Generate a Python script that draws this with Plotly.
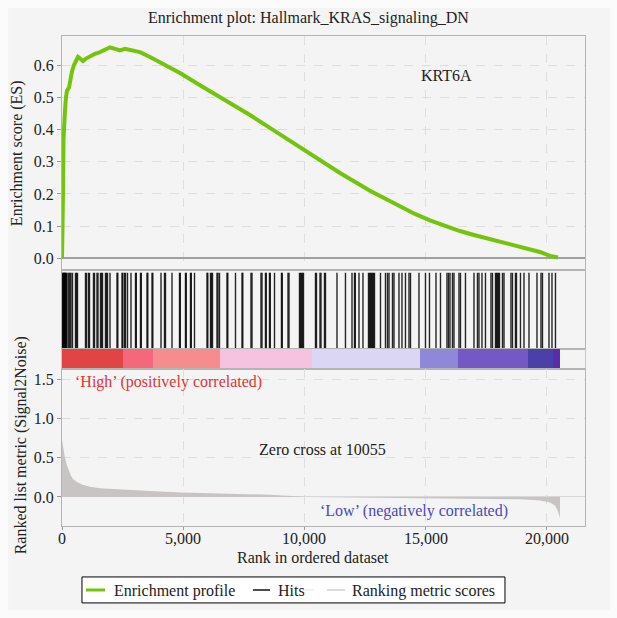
import plotly.graph_objects as go

# ---------------- data ----------------
es_rank = [0, 21, 41, 62, 82, 124, 165, 206, 289, 330, 412, 495, 578, 660, 743, 866, 990,
           1155, 1361, 1568, 1774, 1980, 2186, 2393, 2599, 2805, 3218, 3630, 4249, 4868,
           5693, 6518, 7755, 8993, 10230, 11468, 12705, 13943, 14560, 15180, 15800, 16418,
           17036, 17655, 18270, 18890, 19305, 19718, 20130, 20460]
es_value = [0.0, 0.06, 0.2, 0.37, 0.42, 0.46, 0.50, 0.52, 0.53, 0.55, 0.58, 0.60, 0.61, 0.625,
            0.62, 0.612, 0.62, 0.628, 0.635, 0.64, 0.648, 0.655, 0.65, 0.645, 0.65, 0.647,
            0.64, 0.625, 0.60, 0.575, 0.537, 0.50, 0.445, 0.385, 0.325, 0.265, 0.21, 0.16,
            0.138, 0.118, 0.10, 0.085, 0.072, 0.06, 0.048, 0.037, 0.03, 0.02, 0.008, 0.003]

hit_rank = [21, 41, 62, 82, 103, 124, 144, 165, 186, 248, 289, 330, 371, 433, 557, 598, 639,
            969, 1011, 1093, 1134, 1299, 1341, 1444, 1485, 1588, 1629, 1671, 1794, 1836, 1877,
            1980, 2269, 2302, 2475, 2508, 2578, 2619, 2702, 2846, 3032, 3065, 3238, 3271, 3506,
            3539, 3713, 3746, 4084, 4228, 4269, 4538, 4847, 4880, 5094, 5127, 5301, 5334, 5466,
            5981, 6014, 6126, 6167, 6208, 6394, 6435, 6497,
            6806, 6839, 7157, 7425, 7458, 7796, 7838, 8209, 8250, 8394, 8427, 8559, 8592, 8766,
            9054, 9087, 9323, 9364, 9797, 9838, 9879, 9921, 9962, 10457, 10498, 10643, 10684,
            10828, 10869, 11344, 11694, 11963, 12066, 12099, 12251, 12416, 12643, 12684, 12726,
            12767, 12808, 12849, 12891, 13138, 13344,
            13427, 13489, 13633, 13695, 13901, 14025, 14169, 14314, 14376, 14726, 14994, 15159,
            15428, 15613, 15881, 15943, 16005, 16108, 16170, 16376, 16438, 16644, 16995, 17139,
            17201, 17325, 17469, 17696, 17758, 17882, 17923, 17964, 18006, 18047, 18171, 18233,
            18521, 18583, 18707, 18748, 18913, 19058, 19264, 19594, 19759, 19821, 20089, 20213,
            20357]

metric_rank = [0, 41, 82, 124, 206, 289, 371, 454, 619, 825, 1155, 1568, 2310, 2805, 3630,
               4950, 6930, 8580, 9983, 10055, 11055, 13118, 14974, 17243, 18893, 19718, 20130,
               20336, 20460, 20545]
metric_value = [0.73, 0.65, 0.58, 0.50, 0.40, 0.32, 0.27, 0.23, 0.19, 0.16, 0.13, 0.11, 0.095,
                0.085, 0.075, 0.058, 0.04, 0.028, 0.002, 0.0, -0.005, -0.01, -0.015, -0.025,
                -0.03, -0.045, -0.07, -0.11, -0.18, -0.27]

band_edges = [0, 2516, 3754, 6518, 10313, 14768, 16335, 19223, 20254, 20545]
band_colors = ["#e04444", "#f5687c", "#f78c8e", "#f5c3e0", "#dcd6f5", "#8f87d8",
               "#7458c4", "#4a40a8", "#5c2ab0"]

es_ticks = [0.0, 0.1, 0.2, 0.3, 0.4, 0.5, 0.6]
metric_ticks = [0.0, 0.5, 1.0, 1.5]
rank_ticks = [0, 5000, 10000, 15000, 20000]

legend_names = ["Enrichment profile", "Hits", "", "Ranking metric scores"]
legend_colors = ["#74c40c", "#111111", "#ececec", "#d0d0d0"]

# ---------------- figure ----------------
FONT = "'Liberation Serif', 'Times New Roman', 'DejaVu Serif', serif"
GREEN = legend_colors[0]
fig = go.Figure()

fig.add_trace(go.Scatter(x=es_rank, y=es_value, mode="lines", name=legend_names[0],
                         line=dict(color=GREEN, width=4), xaxis="x", yaxis="y"))

hx, hy = [], []
for r in hit_rank:
    hx += [r, r, None]
    hy += [0, 0.965, None]
fig.add_trace(go.Scatter(x=hx, y=hy, mode="lines", name=legend_names[1],
                         line=dict(color="rgba(0,0,0,0.85)", width=1.4),
                         xaxis="x2", yaxis="y2"))

centers = [(band_edges[i] + band_edges[i + 1]) / 2 for i in range(len(band_colors))]
widths = [band_edges[i + 1] - band_edges[i] for i in range(len(band_colors))]
fig.add_trace(go.Bar(x=centers, y=[1] * len(band_colors), width=widths, base=0,
                     marker=dict(color=band_colors, line=dict(width=0)),
                     xaxis="x3", yaxis="y3", hoverinfo="skip"))

fig.add_trace(go.Scatter(x=metric_rank, y=metric_value, mode="lines", fill="tozeroy",
                         fillcolor="#c9c4c4", line=dict(width=0, color="#c9c4c4"),
                         name=legend_names[3], xaxis="x4", yaxis="y4"))

XR = [0, 21575]
common_x = dict(range=XR, showline=True, mirror=True, linecolor="#b4b4b4", linewidth=1,
                zeroline=False, tickvals=rank_ticks)
grid = dict(showgrid=True, gridcolor="#dedede", griddash="dash", gridwidth=1)
nogrid = dict(showgrid=False)

fig.update_layout(
    width=617, height=618,
    margin=dict(l=62, r=32, t=36, b=92),
    paper_bgcolor="#fbfbfb", plot_bgcolor="white",
    font=dict(family=FONT, size=15, color="#222"),
    bargap=0,
    showlegend=False,
    xaxis=dict(**common_x, **grid, domain=[0, 1], anchor="y", showticklabels=False, ticks=""),
    yaxis=dict(domain=[0.5224, 1], range=[-0.036, 0.69], tickvals=es_ticks,
               tickformat=".1f", showline=True, mirror=True, linecolor="#b4b4b4",
               ticks="outside", ticklen=4, tickcolor="#999", **grid,
               zeroline=True, zerolinecolor="#a0a0a0", zerolinewidth=1.5,
               tickfont=dict(family=FONT, size=16)),
    xaxis2=dict(**common_x, **nogrid, domain=[0, 1], anchor="y2", showticklabels=False, ticks=""),
    yaxis2=dict(domain=[0.3612, 0.5224], range=[0, 1], showline=True, mirror=True,
                linecolor="#b4b4b4", showticklabels=False, ticks="", **nogrid, zeroline=False),
    xaxis3=dict(**common_x, **nogrid, domain=[0, 1], anchor="y3", showticklabels=False, ticks=""),
    yaxis3=dict(domain=[0.3204, 0.3612], range=[0, 1], showline=True, mirror=True,
                linecolor="#c8c8c8", showticklabels=False, ticks="", **nogrid, zeroline=False),
    xaxis4=dict(**common_x, **grid, domain=[0, 1], anchor="y4", showticklabels=False,
                ticks="outside", ticklen=3, tickcolor="#999"),
    yaxis4=dict(domain=[0, 0.3204], range=[-0.37, 1.63], tickvals=metric_ticks,
                tickformat=".1f", showline=True, mirror=True, linecolor="#b4b4b4",
                ticks="outside", ticklen=4, tickcolor="#999", **grid,
                zeroline=True, zerolinecolor="#d8d8d8", zerolinewidth=1,
                tickfont=dict(family=FONT, size=16)),
)

# background panel
fig.add_shape(type="rect", xref="paper", yref="paper", x0=-0.103, x1=1.048, y0=-0.171, y1=1.057,
              fillcolor="#f4f4f4", line=dict(width=0), layer="below")

# hand-drawn legend box (compact, like the reference)
fig.add_shape(type="rect", xref="paper", yref="paper", x0=0.0382, x1=0.847, y0=-0.157,
              y1=-0.104, fillcolor="white", line=dict(color="black", width=1))
leg_y = -0.1306
leg_lines = [(0.0459, 0.0822, 3), (0.3652, 0.3977, 1.5), (0.4589, 0.4818, 1.5),
             (0.5067, 0.5411, 1.5)]
leg_text_x = [0.0956, 0.4092, None, 0.5507]

ann = []
for (x0, x1, w), col, name, tx in zip(leg_lines, legend_colors, legend_names, leg_text_x):
    fig.add_shape(type="line", xref="paper", yref="paper", x0=x0, x1=x1, y0=leg_y, y1=leg_y,
                  line=dict(color=col, width=w))
    if tx is not None:
        ann.append(dict(text=name, xref="paper", yref="paper", x=tx, y=leg_y - 0.002,
                        xanchor="left", yanchor="middle", showarrow=False,
                        font=dict(size=16)))

# rank tick labels placed close to the axis, at the axis' own tick values
for t in rank_ticks:
    ann.append(dict(text=f"{t:,}", xref="x4", yref="paper", x=t, y=-0.0265,
                    xanchor="center", yanchor="middle", showarrow=False,
                    font=dict(size=16)))

ann += [
    dict(text="Enrichment plot: Hallmark_KRAS_signaling_DN", xref="paper", yref="paper",
         x=0.472, y=1.0367, xanchor="center", yanchor="middle", showarrow=False,
         font=dict(size=16)),
    dict(text="KRT6A", xref="x", yref="y", x=15881, y=0.567, xanchor="center",
         yanchor="middle", showarrow=False, font=dict(size=16)),
    dict(text="\u2018High\u2019 (positively correlated)", xref="x4", yref="y4", x=454, y=1.47,
         xanchor="left", yanchor="middle", showarrow=False,
         font=dict(size=16, color="#e03434")),
    dict(text="Zero cross at 10055", xref="x4", yref="y4", x=10766, y=0.61,
         xanchor="center", yanchor="middle", showarrow=False, font=dict(size=16)),
    dict(text="\u2018Low\u2019 (negatively correlated)", xref="x4", yref="y4", x=10560, y=-0.18,
         xanchor="left", yanchor="middle", showarrow=False,
         font=dict(size=16, color="#4a4ab8")),
    dict(text="Rank in ordered dataset", xref="paper", yref="paper", x=0.48, y=-0.065,
         xanchor="center", yanchor="middle", showarrow=False, font=dict(size=16)),
    dict(text="Enrichment score (ES)", xref="paper", yref="paper", x=-0.086, y=0.761,
         xanchor="center", yanchor="middle", textangle=-90, showarrow=False,
         font=dict(size=16)),
    dict(text="Ranked list metric (Signal2Noise)", xref="paper", yref="paper", x=-0.078,
         y=0.165, xanchor="center", yanchor="middle", textangle=-90, showarrow=False,
         font=dict(size=16)),
]
fig.update_layout(annotations=ann)

fig.write_html("out.html")
